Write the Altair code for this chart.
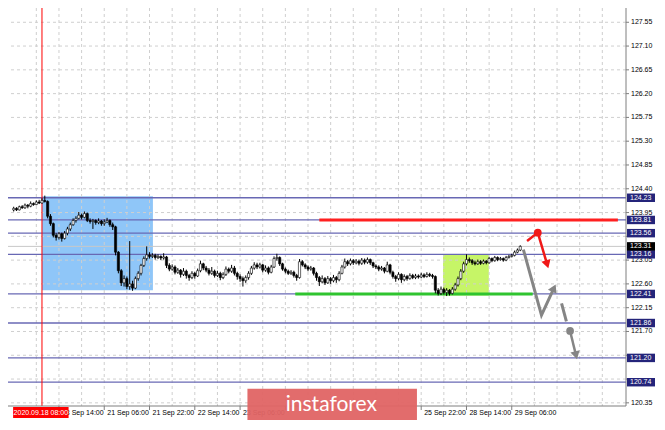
import math
import altair as alt
import pandas as pd

W, H = 618, 398
X_DOM = [-0.24, 214.6]
Y_DOM = [120.29, 127.82]

# ---------------- data (H1 candles, bar index 0 = 17 Sep 22:00) ----------------
first_open = 124.00
closes = [
    124.03, 124.00, 124.06, 124.04, 124.09, 124.07, 124.12, 124.10, 124.15, 124.13,
    124.18, 124.16, 123.88, 123.74, 123.52, 123.48, 123.55, 123.46, 123.56, 123.64,
    123.72, 123.80, 123.84, 123.90, 123.86, 123.93, 123.80, 123.78, 123.80, 123.76,
    123.79, 123.74, 123.77, 123.80, 123.72, 123.68, 123.20, 122.85, 122.62, 122.70,
    122.55, 122.60, 122.52, 122.70, 122.80, 122.95, 123.08, 123.15, 123.12, 123.14,
    123.10, 123.12, 123.09, 123.11, 122.95, 122.88, 122.92, 122.82, 122.86, 122.78,
    122.84, 122.76, 122.72, 122.80, 122.75, 122.85, 122.98, 122.90, 122.86, 122.80,
    122.84, 122.76, 122.80, 122.72, 122.78, 122.88, 122.84, 122.90, 122.80, 122.74,
    122.70, 122.66, 122.72, 122.80, 122.90, 122.96, 122.92, 122.96, 122.86, 122.90,
    122.82, 122.92, 123.08, 123.10, 122.98, 122.88, 122.84, 122.80, 122.82, 122.76,
    122.72, 123.02, 122.96, 122.92, 122.88, 122.90, 122.80, 122.72, 122.64, 122.70,
    122.62, 122.70, 122.66, 122.72, 122.68, 122.80, 122.92, 123.02, 122.98, 123.04,
    123.00, 123.03, 122.99, 123.05, 123.01, 123.06, 123.00, 122.94, 122.92, 122.88,
    122.90, 122.84, 122.96, 122.82, 122.74, 122.70, 122.78, 122.68, 122.74, 122.70,
    122.76, 122.72, 122.75, 122.73, 122.77, 122.74, 122.78, 122.76, 122.74, 122.48,
    122.42, 122.50, 122.44, 122.48, 122.42, 122.50, 122.58, 122.70, 122.84, 122.98,
    123.06, 123.04, 123.00, 122.98, 123.02, 122.99, 123.03, 123.00, 123.08, 123.04,
    123.10, 123.06, 123.08, 123.05, 123.10, 123.12, 123.14, 123.20, 123.24, 123.31,
]
highs = [
    124.06, 124.05, 124.08, 124.09, 124.12, 124.11, 124.16, 124.14, 124.18, 124.19,
    124.22, 124.27, 124.18, 123.92, 123.76, 123.56, 123.58, 123.57, 123.60, 123.68,
    123.76, 123.84, 123.88, 123.96, 123.93, 123.97, 123.95, 123.84, 123.83, 123.82,
    123.84, 123.81, 123.82, 123.85, 123.82, 123.76, 123.70, 123.22, 122.88, 122.76,
    122.74, 123.41, 122.66, 122.74, 122.84, 122.98, 123.12, 123.31, 123.20, 123.18,
    123.17, 123.16, 123.14, 123.18, 123.13, 122.99, 122.97, 122.95, 122.90, 122.88,
    122.90, 122.87, 122.79, 122.84, 122.83, 122.89, 123.04, 123.00, 122.94, 122.90,
    122.92, 122.87, 122.85, 122.83, 122.82, 122.93, 122.91, 122.96, 122.94, 122.83,
    122.78, 122.74, 122.76, 122.84, 122.94, 123.01, 123.00, 123.00, 122.98, 122.95,
    122.93, 122.96, 123.12, 123.17, 123.12, 123.00, 122.91, 122.87, 122.86, 122.85,
    122.79, 123.07, 123.05, 122.99, 122.95, 122.94, 122.92, 122.83, 122.75, 122.76,
    122.73, 122.75, 122.73, 122.77, 122.75, 122.84, 122.96, 123.08, 123.05, 123.08,
    123.07, 123.07, 123.06, 123.09, 123.08, 123.10, 123.08, 123.02, 122.97, 122.95,
    122.94, 122.92, 123.02, 122.98, 122.85, 122.77, 122.82, 122.80, 122.78, 122.77,
    122.80, 122.79, 122.79, 122.78, 122.81, 122.80, 122.82, 122.81, 122.79, 122.76,
    122.52, 122.55, 122.53, 122.52, 122.50, 122.54, 122.62, 122.74, 122.88, 123.02,
    123.16, 123.10, 123.07, 123.04, 123.06, 123.05, 123.06, 123.05, 123.11, 123.10,
    123.13, 123.12, 123.11, 123.10, 123.13, 123.15, 123.17, 123.23, 123.27, 123.33,
]
lows = [
    123.97, 123.98, 123.99, 124.02, 124.02, 124.03, 124.05, 124.08, 124.09, 124.11,
    124.12, 124.14, 123.84, 123.70, 123.48, 123.42, 123.44, 123.40, 123.44, 123.52,
    123.60, 123.70, 123.76, 123.82, 123.82, 123.84, 123.77, 123.74, 123.64, 123.72,
    123.73, 123.70, 123.70, 123.75, 123.68, 123.62, 123.14, 122.80, 122.56, 122.55,
    122.50, 122.49, 122.47, 122.50, 122.66, 122.76, 122.92, 123.04, 123.08, 123.09,
    123.06, 123.07, 123.05, 123.06, 122.90, 122.84, 122.85, 122.78, 122.79, 122.72,
    122.75, 122.70, 122.66, 122.69, 122.70, 122.73, 122.82, 122.86, 122.82, 122.76,
    122.77, 122.72, 122.73, 122.67, 122.69, 122.75, 122.80, 122.81, 122.76, 122.68,
    122.64, 122.55, 122.62, 122.68, 122.77, 122.87, 122.88, 122.89, 122.82, 122.83,
    122.78, 122.80, 122.90, 123.04, 122.94, 122.85, 122.80, 122.77, 122.77, 122.72,
    122.66, 122.70, 122.93, 122.88, 122.84, 122.85, 122.76, 122.66, 122.56, 122.61,
    122.58, 122.60, 122.60, 122.63, 122.62, 122.65, 122.78, 122.89, 122.94, 122.95,
    122.96, 122.97, 122.95, 122.96, 122.97, 122.98, 122.96, 122.90, 122.88, 122.84,
    122.85, 122.80, 122.82, 122.78, 122.70, 122.64, 122.67, 122.62, 122.65, 122.66,
    122.68, 122.69, 122.69, 122.70, 122.71, 122.71, 122.72, 122.73, 122.70, 122.42,
    122.38, 122.39, 122.40, 122.37, 122.38, 122.40, 122.47, 122.55, 122.67, 122.81,
    122.95, 123.00, 122.96, 122.95, 122.96, 122.96, 122.97, 122.97, 122.98, 123.01,
    123.02, 123.03, 123.04, 123.02, 123.03, 123.08, 123.10, 123.12, 123.18, 123.22,
]

level_prices = [124.23, 123.81, 123.56, 123.16, 122.41, 121.86, 121.20, 120.74]
bid_price = 123.31
price_ticks = [127.55, 127.10, 126.65, 126.20, 125.75, 125.30, 124.85, 124.40,
               123.95, 123.50, 123.05, 122.60, 122.15, 121.70, 121.25, 120.80, 120.35]
time_tick_idx = [16, 32, 48, 64, 80, 96, 112, 128, 144, 160, 176]
time_tick_labels = ["18 Sep 14:00", "21 Sep 06:00", "21 Sep 22:00", "22 Sep 14:00",
                    "23 Sep 06:00", "23 Sep 22:00", "24 Sep 14:00", "25 Sep 06:00",
                    "25 Sep 22:00", "28 Sep 14:00", "29 Sep 06:00"]
grid_idx = [8, 16, 24, 32, 40, 48, 56, 64, 72, 80, 88, 96, 104, 112, 120, 128,
            136, 144, 152, 160, 168, 176, 184, 192, 200, 208]
marker_idx = 10
marker_label = "2020.09.18 08:00"

blue_box = [10.0, 49.2, 122.48, 124.26]
green_box = [151.7, 167.9, 122.38, 123.16]
red_segment = [108.0, 213.5, 123.81]
green_segment = [99.5, 183.4, 122.41]

gray_path_idx = [180.1, 186.5, 190.9]
gray_path_price = [123.25, 122.01, 122.52]
gray_dash_idx = [193.6, 195.3]
gray_dash_price = [122.23, 121.89]
gray_drop_idx = [196.6, 198.7]
gray_drop_price = [121.71, 121.25]
red_path_idx = [181.4, 185.2, 188.5]
red_path_price = [123.41, 123.57, 122.97]

watermark = [82.6, 142.5, 120.615]
watermark_text = "instaforex"

# ---------------- helpers ----------------
sx = alt.Scale(domain=X_DOM, nice=False, zero=False)
sy = alt.Scale(domain=Y_DOM, nice=False, zero=False)
kx = W / (X_DOM[1] - X_DOM[0])
ky = H / (Y_DOM[1] - Y_DOM[0])
FONT = "Liberation Sans"
AXIS_GRAY = "#7f7f7f"


def X(f):
    return alt.X(f, type="quantitative", scale=sx, axis=None)


def Y(f):
    return alt.Y(f, type="quantitative", scale=sy, axis=None)


def heading(i0, p0, i1, p1):
    dx = (i1 - i0) * kx
    dy = -(p1 - p0) * ky
    return math.degrees(math.atan2(dx, -dy)) % 360


opens = [first_open] + closes[:-1]
candles = pd.DataFrame({"i": list(range(len(closes))), "o": opens, "h": highs,
                        "l": lows, "c": closes})

# ---------------- layers ----------------
boxes_df = pd.DataFrame({"x0": [blue_box[0], green_box[0]], "x1": [blue_box[1], green_box[1]],
                         "y0": [blue_box[2], green_box[2]], "y1": [blue_box[3], green_box[3]],
                         "col": ["#8fc6f8", "#c6f567"]})
boxes = alt.Chart(boxes_df).mark_rect().encode(
    x=X("x0"), x2="x1", y=Y("y0"), y2="y1", color=alt.Color("col:N", scale=None))

h_grid = alt.Chart(pd.DataFrame({"p": price_ticks})).mark_rule(
    color="#cfcfcf", strokeDash=[3, 3], strokeWidth=1).encode(y=Y("p"))
v_grid = alt.Chart(pd.DataFrame({"g": grid_idx})).mark_rule(
    color="#cfcfcf", strokeDash=[3, 3], strokeWidth=1).encode(x=X("g"))

levels = alt.Chart(pd.DataFrame({"p": level_prices})).mark_rule(
    color="#6868b4", strokeWidth=1.3).encode(y=Y("p"))
bid = alt.Chart(pd.DataFrame({"p": [bid_price]})).mark_rule(
    color="#c8c8c8", strokeWidth=1).encode(y=Y("p"))
marker = alt.Chart(pd.DataFrame({"m": [marker_idx]})).mark_rule(
    color="#ff0000", strokeWidth=1).encode(x=X("m"))

red_line = alt.Chart(pd.DataFrame({"x0": [red_segment[0]], "x1": [red_segment[1]], "p": [red_segment[2]]})).mark_rule(
    color="#ff2020", strokeWidth=3).encode(x=X("x0"), x2="x1", y=Y("p"))
green_line = alt.Chart(pd.DataFrame({"x0": [green_segment[0]], "x1": [green_segment[1]], "p": [green_segment[2]]})).mark_rule(
    color="#2fc42f", strokeWidth=3).encode(x=X("x0"), x2="x1", y=Y("p"))

wicks = alt.Chart(candles).mark_rule(color="black", strokeWidth=1).encode(
    x=X("i"), y=Y("l"), y2="h:Q")
bodies = alt.Chart(candles).mark_bar(size=2.2, stroke="black", strokeWidth=0.6).encode(
    x=X("i"), y=Y("o"), y2="c",
    fill=alt.condition("datum.c >= datum.o", alt.value("white"), alt.value("black")))


def path(idx, price, color, width):
    df = pd.DataFrame({"i": idx, "p": price, "o": list(range(len(idx)))})
    return alt.Chart(df).mark_line(color=color, strokeWidth=width).encode(
        x=X("i"), y=Y("p"), order="o:Q")


gray_path = path(gray_path_idx, gray_path_price, "#858585", 3)
gray_dash = path(gray_dash_idx, gray_dash_price, "#858585", 3)
gray_drop = path(gray_drop_idx, gray_drop_price, "#858585", 2.5)
red_path = path(red_path_idx, red_path_price, "#f01818", 2.5)

heads_df = pd.DataFrame({
    "i": [gray_path_idx[-1], gray_drop_idx[-1], red_path_idx[-1]],
    "p": [gray_path_price[-1], gray_drop_price[-1], red_path_price[-1]],
    "ang": [heading(gray_path_idx[-2], gray_path_price[-2], gray_path_idx[-1], gray_path_price[-1]),
            heading(gray_drop_idx[0], gray_drop_price[0], gray_drop_idx[1], gray_drop_price[1]),
            heading(red_path_idx[-2], red_path_price[-2], red_path_idx[-1], red_path_price[-1])],
    "col": ["#858585", "#858585", "#f01818"],
})
heads = alt.Chart(heads_df).mark_point(shape="triangle-up", filled=True, size=90, opacity=1).encode(
    x=X("i"), y=Y("p"), angle=alt.Angle("ang:Q", scale=None), color=alt.Color("col:N", scale=None))

dots_df = pd.DataFrame({"i": [gray_drop_idx[0], red_path_idx[1]],
                        "p": [gray_drop_price[0], red_path_price[1]],
                        "col": ["#858585", "#f01818"]})
dots = alt.Chart(dots_df).mark_circle(size=60, opacity=1).encode(
    x=X("i"), y=Y("p"), color=alt.Color("col:N", scale=None))

# ---- axes (drawn as marks) ----
y_dom_line = alt.Chart(pd.DataFrame({"a": [0]})).mark_rule(color=AXIS_GRAY, strokeWidth=1).encode(
    x=alt.value(W), y=alt.value(0), y2=alt.value(H))
x_dom_line = alt.Chart(pd.DataFrame({"a": [0]})).mark_rule(color=AXIS_GRAY, strokeWidth=1).encode(
    x=alt.value(0), x2=alt.value(W), y=alt.value(H))
ptick_df = pd.DataFrame({"p": price_ticks, "t": [f"{v:.2f}" for v in price_ticks]})
# price labels sitting right under a level's price box are hidden by it in the picture
ptick_vis = ptick_df[[min(abs(p - q) for q in level_prices + [bid_price]) > 0.08 for p in price_ticks]]
y_ticks = alt.Chart(ptick_df).mark_rule(color=AXIS_GRAY, strokeWidth=1).encode(
    y=Y("p"), x=alt.value(W), x2=alt.value(W + 3))
y_labels = alt.Chart(ptick_vis).mark_text(align="left", baseline="middle", font=FONT, fontSize=7,
                                          color="black").encode(x=alt.value(W + 5), y=Y("p"), text="t:N")
ttick_df = pd.DataFrame({"i": time_tick_idx, "t": time_tick_labels})
# labels whose whole text lies under the watermark panel are not visible in the picture
ttick_vis = ttick_df[(ttick_df["i"] < watermark[0]) | (ttick_df["i"] > watermark[1])]
x_ticks = alt.Chart(ttick_df).mark_rule(color=AXIS_GRAY, strokeWidth=1).encode(
    x=X("i"), y=alt.value(H), y2=alt.value(H + 4))
x_labels = alt.Chart(ttick_vis).mark_text(align="left", baseline="top", font=FONT, fontSize=7,
                                          color="black", dx=3).encode(x=X("i"), y=alt.value(H + 3), text="t:N")

lab_prices = level_prices + [bid_price]
lab_df = pd.DataFrame({"p": lab_prices,
                       "lo": [v - 0.08 for v in lab_prices],
                       "hi": [v + 0.08 for v in lab_prices],
                       "txt": [f"{v:.2f}" for v in lab_prices],
                       "bg": ["#24247a"] * len(level_prices) + ["#000000"]})
lab_rect = alt.Chart(lab_df).mark_rect().encode(
    x=alt.value(W + 1), x2=alt.value(W + 29), y=Y("lo"), y2="hi",
    color=alt.Color("bg:N", scale=None))
lab_text = alt.Chart(lab_df).mark_text(align="left", baseline="middle", font=FONT, fontSize=7,
                                       color="white").encode(x=alt.value(W + 4), y=Y("p"), text="txt:N")

mk_df = pd.DataFrame({"x0": [marker_idx - 10.2], "x1": [marker_idx + 9.4], "xm": [marker_idx - 0.4],
                      "t": [marker_label]})
mk_rect = alt.Chart(mk_df).mark_rect(color="#ff0000").encode(
    x=X("x0"), x2="x1", y=alt.value(H + 1), y2=alt.value(H + 12))
mk_text = alt.Chart(mk_df).mark_text(font=FONT, fontSize=7, color="white", baseline="middle").encode(
    x=X("xm"), y=alt.value(H + 6.5), text="t:N")

wm_df = pd.DataFrame({"x0": [watermark[0]], "x1": [watermark[1]], "top": [watermark[2]],
                      "xm": [(watermark[0] + watermark[1]) / 2 - 0.3], "t": [watermark_text]})
wm_rect = alt.Chart(wm_df).mark_rect(color="#e06464", opacity=0.95).encode(
    x=X("x0"), x2="x1", y=Y("top"), y2=alt.value(H + 14))
wm_text = alt.Chart(wm_df).mark_text(font="Lato", fontSize=21, color="white",
                                     baseline="alphabetic", align="center").encode(
    x=X("xm"), y=alt.value(H + 5), text="t:N")

chart = alt.layer(
    boxes, h_grid, v_grid, levels, bid, marker, red_line, green_line,
    wicks, bodies, gray_path, gray_dash, gray_drop, red_path, heads, dots,
    y_dom_line, x_dom_line, y_ticks, y_labels, x_ticks, x_labels,
    lab_rect, lab_text, mk_rect, mk_text, wm_rect, wm_text,
).properties(
    width=W, height=H,
    padding={"left": 0, "top": 0, "right": 30, "bottom": 14},
    autosize=alt.AutoSizeParams(type="none"),
    background="white",
).configure_view(stroke=None)

chart.save("out.html", embed_options={"renderer": "svg", "actions": False})
